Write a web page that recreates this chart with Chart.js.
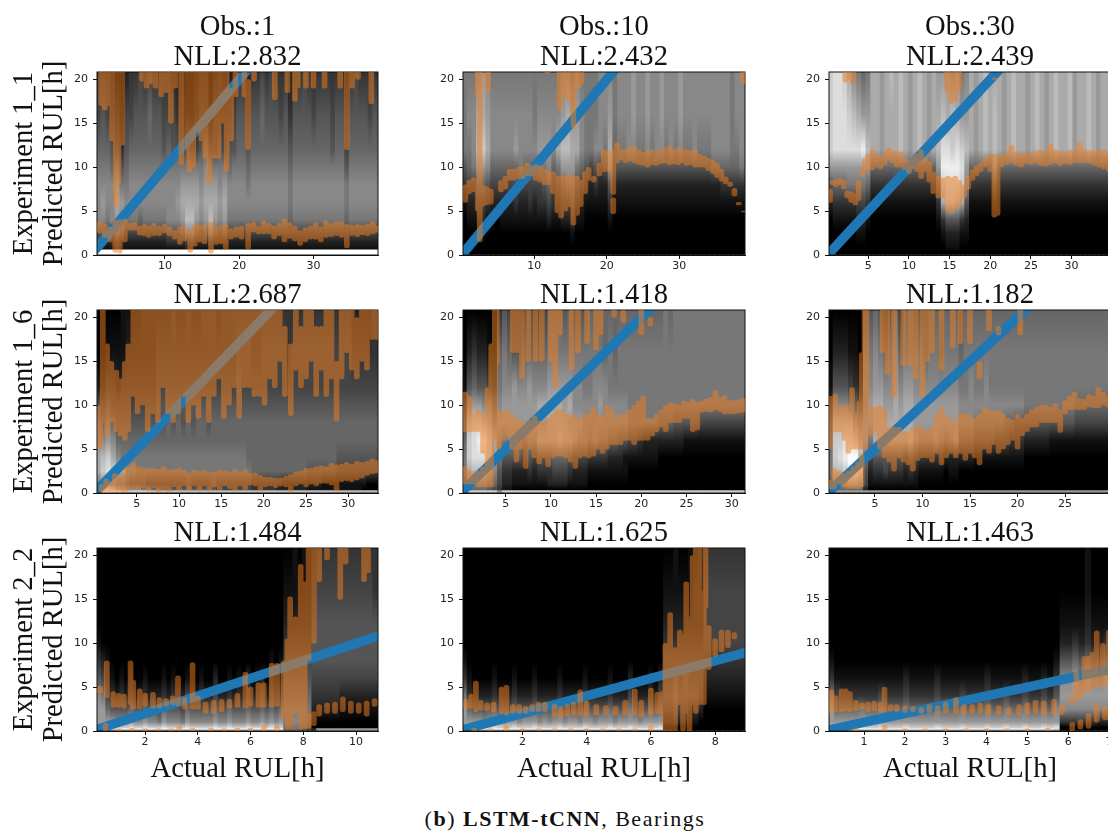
<!DOCTYPE html>
<html>
<head>
<meta charset="utf-8">
<script src="https://cdn.jsdelivr.net/npm/chart.js@4/dist/chart.umd.min.js"></script>
<style>
  html, body { margin: 0; padding: 0; width: 1108px; height: 831px; overflow: hidden; background: #fff; }
  canvas { position: absolute; filter: blur(0.6px); }
  #caption { position: absolute; left: 0; width: 1130px; top: 806px; text-align: center; font: 22px "Liberation Serif"; letter-spacing: 1.5px; color: #111; }
</style>
</head>
<body>
<div id="caption">(<b>b</b>) <b>LSTM-tCNN</b>, Bearings</div>
<script>
// y axis is the same everywhere
const yMax = 20.85;
const yTicks = [0, 5, 10, 15, 20];

// ideal line, predicted = actual
const idealX = [0, 40];
const idealY = [0, 40];

// x ranges and ticks
const range11 = [0.84, 38.7], ticks11 = [10, 20, 30];
const range12 = [0.17, 39.06], ticks12 = [10, 20, 30];
const range13 = [0.17, 34.85], ticks13 = [5, 10, 15, 20, 25, 30];
const range21 = [0.31, 33.5], ticks21 = [5, 10, 15, 20, 25, 30];
const range22 = [0.28, 31.47], ticks22 = [5, 10, 15, 20, 25, 30];
const range23 = [0.16, 29.84], ticks23 = [5, 10, 15, 20, 25];
const range31 = [0.18, 10.83], ticks31 = [2, 4, 6, 8, 10];
const range32 = [0.15, 8.93], ticks32 = [2, 4, 6, 8];
const range33 = [0.14, 7.05], ticks33 = [1, 2, 3, 4, 5, 6, 7];

const title11 = ["Obs.:1", "NLL:2.832"];
const title12 = ["Obs.:10", "NLL:2.432"];
const title13 = ["Obs.:30", "NLL:2.439"];
const title21 = "NLL:2.687", title22 = "NLL:1.418", title23 = "NLL:1.182";
const title31 = "NLL:1.484", title32 = "NLL:1.625", title33 = "NLL:1.463";
const rowLabels = ["Experiment 1_1", "Experiment 1_6", "Experiment 2_2"];
const yLabel = "Predicted RUL[h]";
const xLabel = "Actual RUL[h]";

// heat map: predicted RUL levels where grey is read, each column string has one hex digit per level
const levelsThick = [0, 0.55, 0.7, 1.5, 2.5, 4, 6, 8, 10, 12, 16, 20.85];
const levelsThin = [0, 0.25, 0.4, 1, 2.5, 4, 6, 8, 10, 12, 16, 20.85];

const heat11 = ["ff1358887643","ff1358987653","ff1247887643","ff1358886532","ff2479a97420","ff1368975310","ff1247876542","ff1247887643",
  "ff1247887653","ff1246887654","ff1247887653","ff1247887664","ff1247887653","ff1247887653","ff1247887543","ff1358887643",
  "ff1358887542","ff1358987532","ff1369a97432","ff248ba97510","ff248ba97410","ff1369a97421","ff1358987532","ff1369a98632",
  "ff248ba97410","ff1369a97431","ff1358987532","ff1369a97431","ff1247886532","ff1247887542","ff1247887653","ff1247887653",
  "ff1247876532","ff1247887653","ff1247887653","ff1247887664","ff1247887653","ff1247887654","ff1247887653","ff1247887643",
  "ff1247887653","ff1246776532","ff1247887653","ff1247887653","ff1247887654","ff1247887653","ff1247887643","ff1247887653",
  "ff1247887653","ff1247887653","ff1247887543","ff1247887653","ff1247887653","ff1246775431","ff1247887653","ff1247887654",
  "ff1247887653","ff1247887653","ff1247887643","ff1247887653"];

const heat12 = ["000000135777","000001246787","000001247887","000002469ba8","000012469ca9","000001358a98","000001246887","000000246887",
  "000001246887","000001246887","000001246887","000001346987","000001247887","000001246887","000001346887","000001246877",
  "000001347987","000001357987","000002468987","000001346887","000001357a87","000002469b98","000002479ba8","000013579a97",
  "000001357a98","000001246887","000000135777","000000124777","000000135877","000000124888","000000125788","000001359a98",
  "000000125677","000000125788","000000125788","000000125888","000000125899","000000125788","000000125788","000000125899",
  "000000125788","000000125888","000000125899","000000125788","000000125888","000000125788","000000125899","000000125788",
  "000000125788","000000125888","000000125788","000000125788","000000125788","000000126888","000000126888","000000136888",
  "000000136888","000000136777","000000136788","000000137888"];

const heat13 = ["000000259ccc","000001369ddd","000001369ddd","000001369ddc","000001379dca","000001379db8","000012479da7","000012479e96",
  "000001369b97","000000136aaa","000000136aaa","000000136999","000000136aaa","000000136aab","000000136aaa","000000136bbb",
  "000000136aaa","000000136999","000000136aaa","000000136bbb","000000136aaa","000000136999","000000136aaa","000001369ba9",
  "000013acedb9","000125cdeda9","000125cdecb8","000125bdeda9","000013acdc97","000012589b98","000000136aaa","000000136999",
  "000000136aaa","000000136bbb","000000136aaa","000000259bba","000000136aaa","000000136999","000000136aaa","000000136bbb",
  "000000136aaa","000000136aaa","000000136999","000000136aaa","000000136bbb","000000136aaa","000000136999","000000136aaa",
  "000000136bbb","000000136aaa","000000136aaa","000000136bbb","000000136999","000000136aaa","000000136aaa","000000136bbb",
  "000000136aaa","000000136999","000000136aaa","000000136aaa"];

const heat21 = ["ddb7aa875200","eec8cb864200","eed9dc975310","eec8ca864310","dda7a8654210","cc97a7654311","cc8687654321","cc8587654321",
  "cc8577654321","cc7577654322","cc7477654322","bb6477654322","bb6477655432","bb6477655432","bb5477665432","bb5477655433",
  "bb5477665432","bb5477655432","bb6577665433","bb5477655432","bb5477665432","bb5477665433","bb5477655433","bb5577665433",
  "bb4477665432","bb4477665433","bb4477665433","bb4477665433","bb4477665543","bb4477665443","bb4476665443","bb3366665433",
  "bb3366665433","bb3366665443","bb3366665443","bb3366665443","bb2366665443","bb2266665443","bb2266665433","bb2266665443",
  "bb2266665443","bb2266665443","bb1256665443","bb1256665443","bb1256665443","bb1156665443","bb1156665443","bb1156665443",
  "bb1145665443","bb1145665443","bb1145665443","bb1145665432","bb1145665432","bb0145665432","bb0045665432","bb0045665433"];

const heat22 = ["cc4577653100","cc58accb8520","cc68bddc9630","cc68bdec9520","cc68bdeb8520","cc57acca8410","cc4689a86310","883457898763",
  "cc1235799875","cc1235899864","cc0125899954","cc0125899854","cc0124799864","cc0135899965","cc0124899864","cc0135a9a864",
  "cc0135a9a864","cc0235aaa976","cc0246aaa976","cc0246baa976","cc0246aa9975","cc0135a9a976","cc0124998875","cc0124898875",
  "cc0124888775","cc0013788776","cc0013888876","cc0013789876","cc0013788866","cc0012688776","cc0012688766","cc0012588776",
  "cc0011588776","cc0001477776","cc0001477776","cc0001377776","cc0001277776","cc0001277776","cc0001277776","cc0000267776",
  "cc0000267777","cc0000267776","cc0000257777","cc0000257777","cc0000157777","cc0000157777","cc0000157777","cc0000147777",
  "cc0000147777","cc0000147777","cc0000147777","cc0000147777","cc0000147777","cc0000147777","cc0000147777","cc0000147777"];

const heat23 = ["994577653100","9958bccb8520","9968bdcb8520","9969cedb8520","996aefdb7410","996aefc96310","9969dca85200","992457998875",
  "990124799875","990135aaa986","990135aaa975","990145aa9864","990135aa9875","990135aaa986","990135aa9864","990124aaa976",
  "990135baa976","990124999875","990013899875","990013899865","990013899876","990013999876","990013899866","990002799876",
  "990012899876","990012999876","990002688765","990002688776","990002688876","990001578776","990001578776","990001578876",
  "990001578776","990001478776","990001478776","990001468776","990001368776","990001358776","990001358776","990000257776",
  "990000257776","990000257776","990000257776","990000257776","990000157776","990000157776","990000157776","990000157776",
  "990000157776","990000146776","990000146776","990000146776","990000146776","990000146776","990000146776","990000146776"];

const heat31 = ["6aa998531000","6bb997420000","7cc964210000","8dc953100000","8ec852000000","8ec853100000","8ec852000000","8ed963100000",
  "8ec852000000","8ec842000000","8ed963100000","8ec852000000","8ec852000000","8ec742000000","8ed963100000","8ec852000000",
  "8ec853100000","8ec852000000","8ec742000000","8ed964100000","8ec852000000","8ec852000000","8ec853100000","8ec852000000",
  "8ec852000000","8ed964200000","8ec852000000","8ec852000000","8ed963100000","8ec852000000","8ec853100000","8ec852000000",
  "8ed964200000","8ec852000000","8ec853100000","8ed964200000","8ec852000000","8ed964210000","8ec853100000","8ec964210000",
  "566776543210","566776543210","577876543211","566776543210","466776543211","345676543211","220023455432","990023455543",
  "990023455543","990023455543","990023455543","990023455543","990012455543","990012455543","990012455543","990012455543",
  "990012455543","990012455543","990012455543","990012455533"];

const heat32 = ["7bb997310000","7cc963100000","8dc952000000","8ec952000000","8ec852000000","8ec952000000","8ed963100000","8ec952000000",
  "8ec852000000","8ec952000000","8ed963100000","8ec852000000","8ec952000000","8ec952000000","8ed963100000","8ec852000000",
  "8ec952000000","8ec852000000","8ec952000000","8ed963100000","8ec852000000","8ec952000000","8ec952000000","8ec852000000",
  "8ed963100000","8ec952000000","8ec852000000","8ec952000000","8ec952000000","8ed963100000","8ec852000000","8ec952000000",
  "8ec952000000","8ed974200000","8ec952000000","8ec852000000","8ec952000000","8ed963100000","8ec952000000","8ed964200000",
  "000245443210","000245443210","000356543211","000245443210","000245543210","000135443211","000135443221","000024443222",
  "000001234443","000001234443","000001234443","000001234443","000001234443","000001234443","000001234443","000001234443"];

const heat33 = ["7bb997310000","8cc964100000","8dc963100000","8ec963100000","8ec963100000","8ed973100000","8ec963100000","8ec963100000",
  "8ed974100000","8ec963100000","8ec963100000","8ec963100000","8ed974200000","8ec963100000","8ec963100000","8ec963100000",
  "8ec963100000","8ed974200000","8ec963100000","8ec963100000","8ec963100000","8ed974100000","8ec963100000","8ec963100000",
  "8ec963100000","8ed974200000","8ec963100000","8ec963100000","8ed974100000","8ec963100000","8ec963100000","8ed974200000",
  "8ec963100000","8ec963100000","8ed974200000","8ec963100000","8dd985310000","000389852100","000389852100","000389963100",
  "000389852100","000389963211","000389852100","000289852100","000289963100"];

// orange predictions as [actual, low, high] ranges
const orange11 = [[1.4,17,21],[1.9,16.5,21],[2.4,17,21],[2.9,13,21],[3.4,5.5,21],[3.7,8,21],[4.2,12.5,21],[6.9,19.8,21],[7.5,19,21],[8.1,19.5,21],[8.7,19,21],[9.5,18,21],[10.2,18.5,21],[10.8,15,21],[11.4,19,21],[12.2,10.3,21],[13,12,21],[13.3,9.5,21],[13.8,10,21],[14.3,14,21],[14.9,13,21],[15.4,11,21],[16,8.2,21],[16.6,11,21],[17.2,11,21],[17.8,15,21],[18.3,9.5,21],[18.9,13,19],[19.5,18,21],[20.7,18,21],[21.2,12,20],[22,19.8,21],[24.8,17.7,21],[26.5,18.5,21],[27.5,17.5,21],[27.9,19,21],[29,19,21],[30,19,21],[31.5,19,21],[33.6,19,21],[34.5,12,21],[35.2,19,21],[36,20,21],[37.8,17.2,21],
  [1.2,2.5,3.8],[1.9,2,3.5],[2.6,1.5,3.2],[3.3,0.3,4],[3.9,0.2,4],[4.6,1.5,4.1],[5.3,2.8,3.6],[5.9,2.8,3.7],[6.6,2.3,3.3],[7.2,2.2,3.5],[7.8,2,3.3],[8.5,2.2,3.6],[9.2,2.2,3.3],[9.9,2.5,3.5],[10.6,2.2,3.2],[11.3,1.8,2.8],[12,1.2,3.2],[12.6,1.6,3.3],[13.4,0.3,2.8],[14,1,3.5],[14.6,1.5,3.4],[15.3,1.3,3.5],[16.2,0.2,3.7],[16.9,1.2,3.2],[17.6,1.3,3.4],[18.2,0.6,3.5],[18.9,1.8,3],[19.6,2,3.2],[20.3,1.8,3.3],[21.2,0.7,3.6],[21.9,2.6,3.7],[22.6,2.4,3.3],[23.3,2.4,3.9],[24,2.4,3.6],[24.7,1.8,3.3],[25.4,2.2,3.6],[26.1,1.5,4.1],[26.8,1.9,3.7],[27.5,1.6,3.3],[28.2,1.1,2.8],[28.9,1.5,3.1],[29.6,1.8,3.3],[30.3,1.8,3.7],[31,1.5,3.2],[31.7,2,3.9],[32.4,2.1,3.6],[33.1,2.2,3.8],[33.8,2,3.8],[34.5,0.8,3.5],[35.2,2.2,3.4],[35.9,2.1,3.5],[36.6,2.3,3.4],[37.3,2.2,3.5],[38,2.4,3.8],[38.5,2.6,3.3]];

const orange12 = [[2.2,18,21],[2.5,1.5,21],[3.6,18.5,21],[11.8,20.7,21],[13.5,16.5,21],[14,18,21],[14.7,17.5,21],[15.4,14.5,21],[16.1,19,21],[16.5,19.5,21],[38.8,19.5,21],
  [0.5,6,8],[1,7,8.5],[1.6,7.2,8.8],[2.2,5,8.5],[2.8,5.5,8],[3.4,5.7,7.8],[4,5.8,7.5],[5.4,7.2,8.5],[6,7.5,9],[6.6,8.5,9.8],[7.2,8.5,9.8],[7.8,8.7,10],[8.4,8.7,10.1],[9,9,10.5],[9.6,9,10.2],[10.2,8.5,10.3],[10.8,8.3,10.2],[11.4,8,9.8],[12,8,9.5],[12.6,7,9.5],[13.2,4.8,9],[13.7,4.2,9],[14.3,5,9],[14.9,5.5,9.2],[15.4,3.4,9],[15.9,4.5,9],[16.4,5.5,8.5],[17,7,9.5],[17.5,8.5,10],[18.2,8.3,9],[19,9,10.5],[19.6,9.5,12],[20.2,9.5,11.8],[20.9,6.9,12],[20.9,4.7,6.5],[21.4,10.5,12.8],[22,10.8,12],[22.6,10.5,12],[23.2,10.7,12.2],[23.8,10.5,12.4],[24.4,10.3,12],[25,10.2,11.7],[25.6,10,11.9],[26.2,10.3,12],[26.8,10.2,11.6],[27.4,10.4,12],[28,10.5,12.2],[28.6,10.3,12.4],[29.2,10.4,12],[29.8,10.3,12.3],[30.4,10.5,12],[31,10.2,12],[31.6,10.3,11.9],[32.2,10,12],[32.8,10,11.5],[33.4,10,11.3],[34,9.6,11],[34.6,9.3,10.8],[35.2,8.8,10.5],[35.8,8.4,9.8],[36.4,8.1,8.9],[37,7.8,8.3],[37.6,6.7,7.6],[38.2,5.7,6],[38.9,4.9,5]];

const orange13 = [[2.2,19.7,21],[2.6,20,21],[3.1,19.5,21],[14.7,18.5,21],[15.2,17.3,21],[15.7,17.5,21],[16.2,18.8,21],[20.5,20,20.2],
  [0.3,6,7.5],[0.6,8,8.5],[1,7.8,8.6],[1.5,8,8.7],[2,7.5,8.5],[2.4,6.5,7.3],[2.9,6,7.2],[3.4,5.7,7],[3.8,6.2,8.5],[4.3,9,10],[4.6,9.5,11],[5,9.8,11.5],[5.5,9.7,12],[6,10,11.5],[6.5,9.8,11.2],[7,10.2,11.6],[7.5,10.8,12.2],[8,10.5,11.8],[8.5,10,11.8],[9,10,11.7],[9.5,9.7,11],[10,9.3,10.8],[10.5,9.8,11.2],[11,9.5,11.5],[11.5,8.7,12],[12,9.5,11],[12.5,8.3,10.7],[13,7,9.5],[13.6,6.5,9],[14.2,6.5,8.8],[14.8,5,9],[15.2,4.8,8.8],[15.7,5.2,9],[16.2,5.5,8.5],[16.8,6.5,8],[17.3,7.5,9],[17.8,8.5,9.7],[18.3,9,10.2],[18.8,9.5,10.5],[19.3,10,11],[20,9.5,11.5],[20.5,4.3,11.5],[20.9,4.5,11],[21.4,10,11.5],[22,10.3,11.6],[22.6,10.5,12.5],[23.2,10.2,11.7],[23.8,10,11.5],[24.4,10.4,11.6],[25,10.3,11.5],[25.6,10.5,11.9],[26.2,10.2,12],[26.8,10.1,11.8],[27.4,10.3,12.7],[28,10.5,12],[28.6,10.2,11.8],[29.2,10.4,11.6],[29.8,10.3,12],[30.4,10.5,12],[31,10.5,12.8],[31.6,10.5,12.1],[32.2,10.5,11.9],[32.8,10.2,11.9],[33.4,10,12],[34,9.8,12],[34.6,9.5,11.5]];

const orange21 = [[0.7,5,10],[1,8,21],[1.5,6.5,17],[2,8,15],[2.6,7,14],[3.1,6.5,13],[3.6,6,15],[4,7,17],[4.6,11,21],[5.1,9,21],[5.7,10,21],[6.3,7,21],[6.9,9,21],[7.5,8,21],[8.1,12,21],[8.7,9,21],[9.3,8,21],[9.9,9,21],[10.5,11,21],[11.1,8,21],[11.7,10,21],[12.3,8.5,21],[12.9,11,21],[13.5,8,21],[14.1,11,21],[14.7,13,21],[15.3,8.5,21],[15.9,10,21],[16.5,12,21],[17.1,8.5,21],[17.7,12,21],[18.3,12,21],[18.9,11,21],[19.5,11,21],[20.1,10,21],[20.7,13,21],[21.3,12,21],[21.9,15,21],[22.5,11,19],[23.2,8.8,17],[23.8,14,21],[24.4,12,19],[25,13,21],[25.6,15,21],[26.2,11,19],[26.8,14,19],[27.4,11,21],[28,13,21],[28.6,8.2,15],[29.2,13,21],[29.8,16,21],[30.4,14,21],[31,13,20],[31.6,15,21],[32.2,14,21],[32.8,17.5,21],[33.3,17.5,21],
  [0.9,0.1,1],[1.4,0.1,1.6],[1.9,0.1,1.3],[2.4,0.1,2.2],[2.9,0.2,1.8],[3.4,0.1,2.3],[3.9,0.2,3],[4.6,0.5,3.4],[5.2,0.4,3],[5.8,0.6,2.9],[6.4,0.2,2.8],[7,0.6,2.8],[7.6,0.1,2.7],[8.2,0.5,3],[8.8,0.1,2.6],[9.4,0.7,2.7],[10,0.3,2.8],[10.6,0.8,2.6],[11.2,0.3,2.3],[11.8,0.8,2.6],[12.4,0.2,2.5],[13,0.8,2.6],[13.6,0.2,2.4],[14.2,0.7,2.4],[14.8,0.3,2.6],[15.4,0.8,2.5],[16,0.5,2.4],[16.6,0.2,2.7],[17.2,0.8,2.4],[17.8,0.3,2.7],[18.4,0.9,2.3],[19,0.8,2.3],[19.6,0.3,2],[20.2,0.7,1.8],[20.8,0.8,1.8],[21.4,0.6,1.7],[22,0.8,1.7],[22.6,0.7,1.9],[23.2,0.1,2.1],[23.8,0.8,2.4],[24.4,1,2.5],[25,0.7,2.8],[25.6,1,2.8],[26.2,0.8,3],[26.8,1.1,3.1],[27.4,1.1,3],[28,0.9,3.4],[28.6,0.2,3.2],[29.2,1.3,3.3],[29.8,1.4,3.5],[30.4,1.3,3.3],[31,1.5,3.6],[31.6,1.7,3.5],[32.2,2,3.6],[32.8,2.2,3.9],[33.3,2.3,3.7]];

const orange22 = [[0.5,7,11.5],[1,7,11],[1.5,7,9],[2,7,9.5],[2.5,4.5,9],[3,5,12],[3.4,0.7,17],[3.8,6,21],[4,14.5,21],
  [0.5,1,3],[1,1,2.5],[1.5,1,2.5],[2,0.7,2.5],[2.5,0.7,3],[3,0.7,5],
  [5.8,16,21],[6.3,16,21],[6.8,13,21],[7.5,15,21],[8.3,15,21],[9,15,21],[10,15,21],[10.5,12,21],[11,18,21],[12.3,14,21],[13,16,21],[14,17,21],[15,16.3,21],[15.5,18,21],[17,20,21],[18,19.4,20.8],[20,18,21],[21,19,20],
  [4.2,5,9.5],[4.7,6,9.2],[5.2,6.5,9.5],[5.7,5,9],[6.2,3.5,8.5],[6.7,5,8.2],[7.2,2.8,8],[7.7,5,8.3],[8.2,4,8.8],[8.7,3.3,8.2],[9.2,4,8],[9.7,3,8.5],[10.2,4,9],[10.7,4.2,9.5],[11.2,4.2,9.5],[11.7,4,9],[12.2,3.5,9],[12.7,2.8,8.6],[13.2,4,8.5],[13.7,4.2,9],[14.2,4,9],[14.7,4.2,9.8],[15.2,5,9],[15.7,4.5,8.8],[16.2,5,10],[16.7,5.5,9.5],[17.2,5.5,8.5],[17.7,5.5,9],[18.2,6,9],[18.7,6,9.5],[19.2,5.5,10],[19.7,6,10.5],[20.2,6,11],[20.7,6,8.5],[21.2,6.5,8.5],[21.7,7,9],[22.2,7.5,9.5],[22.7,7,10],[23.2,8,10.3],[23.7,8,10.2],[24.2,8,10],[24.7,8.5,10.5],[25.2,8.5,10.4],[25.7,7,10.7],[26.2,7.2,10.3],[26.7,9.2,10.5],[27.2,9.3,10.7],[27.7,9.2,10.9],[28.2,9.5,11.7],[28.7,9.3,10.9],[29.2,9,11.1],[29.7,9,10.5],[30.2,9,10.6],[30.7,9.1,10.6],[31.2,9.2,10.8]];

const orange23 = [[0.3,5,11],[0.8,7,11.3],[1.3,7,10],[1.8,6,10],[2.2,4.5,10],[2.6,5,12],[3,5,9],[3.4,5,10.5],[3.6,5,16],[3.9,5,21],[4.1,9,21],
  [0.3,0.5,1.5],[0.7,0.5,2.8],[1.2,1,2.5],[1.7,0.7,2.2],[2.2,0.5,2.5],[2.7,0.5,3],[3.2,0.5,3.5],[3.6,0.7,4.5],
  [5.8,16,21],[6.3,13.5,21],[7,11,21],[8,14.5,21],[8.7,14.5,21],[9.3,13,21],[10,11,21],[10.5,15,21],[11,16,21],[12,14,21],[13.2,16.5,21],[14,17,21],[15,17,21],[16,13,15],[17,18.5,21],[18,18,19],[20.3,18,21],
  [4.6,6.5,9.8],[5,7,9.8],[5.5,5,10],[6,4,9.5],[6.5,3.5,7.5],[7,2.5,7.5],[7.5,4,7.5],[8,3.5,7],[8.5,3.2,7],[9,2.5,7.5],[9.5,3.7,7.5],[10,4,7.5],[10.5,4,7],[11,3.5,7.5],[11.5,4.5,9],[12,3.2,9.7],[12.5,4,8.8],[13,4.5,8.5],[13.5,4,8],[14,4.5,9],[14.5,3.7,9],[15,4.5,9],[15.5,4,8.5],[16,3.2,9],[16.5,5,9.8],[17,4.5,9.5],[17.5,5.5,9.3],[18,4.5,9.4],[18.5,5,9],[19,5.5,8.5],[19.5,6,8.3],[20,5,9],[20.5,6.5,8.5],[21,7,9],[21.5,7.5,9.5],[22,7.5,9.8],[22.5,8,10],[23,8,10],[23.5,8,9.8],[24,8,10.2],[24.5,6.9,9.5],[25,9,10.5],[25.5,9.5,11],[26,9.5,11.5],[26.5,9.5,10.8],[27,9.5,10.7],[27.5,9.8,11.2],[28,9.7,11],[28.5,9.7,12],[29,10,11.5],[29.5,9.8,11]];

const orange31 = [[0.3,4.3,5.1],[0.55,3.8,8],[0.8,2.7,4.5],[1,2.7,4.3],[1.2,2.6,4.2],[1.45,3,8],[1.55,2.5,5.8],[1.8,2.5,4.8],[2,2.8,4.3],[2.3,2.6,4.4],[2.55,2.6,3.8],[2.8,2.8,3.7],[3.05,3,4],[3.25,2.9,6.3],[3.5,2.5,3.8],[3.8,2.5,7.8],[4,2.5,4],[4.3,2,3.3],[4.6,2,3.5],[4.9,2.2,3.6],[5.2,2.6,3.6],[5.5,2.7,4.3],[5.8,2.6,6.7],[6,2.8,5],[6.3,2.7,5.5],[6.5,2.7,5.5],[6.8,2.7,7.7],[7,2.8,7.7],[7.25,1.5,8],[7.4,0.2,10.5],[7.5,0.2,15.3],[7.7,2,13],[7.9,0.2,19],[8.05,0.3,17],[8.2,8,21],[8.4,10,21],[8.6,17,21],[8.9,19.5,21],[9.4,15,21],[9.6,19,21],[10.3,17,21],[10.45,18,21],
  [8.2,0.3,2],[8.4,0.6,2.2],[8.6,1.7,3],[8.9,2,3.2],[9.2,2,3.3],[9.5,2.2,3.9],[9.8,2,3.4],[10.1,2,3.2],[10.4,1.7,3.4],[10.7,2.8,3.7],
  [0.5,0,0.9],[1,0,0.25],[1.5,0,0.3],[2,0,0.25],[2.5,0,0.25],[3,0,0.25],[3.3,0,0.6],[3.8,0,0.3],[4.5,0,0.3],[5,0,0.25],[5.5,0,0.3],[6,0,0.3],[6.5,0,0.7],[7,0,0.6]];

const orange32 = [[0.25,2.5,3.6],[0.4,2.6,4.2],[0.55,2.2,5.7],[0.7,2.4,3.5],[0.9,2.3,3.2],[1.1,2.2,3.3],[1.35,2,5],[1.5,1.8,5.2],[1.7,2,3],[1.9,2,3],[2.1,2,2.8],[2.3,2.2,3],[2.5,2.2,3.3],[2.7,2.2,3.3],[3,1.7,3.1],[3.2,1.5,2.8],[3.4,1.7,3],[3.6,1.8,3.3],[3.8,1.7,4.7],[4,1.7,3.4],[4.3,1.8,3],[4.6,1.8,2.9],[4.9,1.8,2.8],[5.2,1.8,3.5],[5.5,1.8,4.8],[5.7,1.6,3.5],[6,1.8,4.9],[6.2,2,4.4],[6.35,2,4.5],[6.45,0,10],[6.6,0,13.5],[6.75,0,9.5],[6.9,3,11.5],[7,0,11],[7.1,2,17],[7.2,0,13],[7.3,3,20],[7.4,2,21],[7.5,3,21],[7.65,3,16],[7.7,14,21],[7.8,7,12],[8,8.5,10.5],[8.2,9,11.5],[8.4,9.5,11.5],[8.6,10.5,11.2],
  [0.5,0,0.3],[1,0,0.25],[1.5,0,0.6],[2,0,0.25],[2.5,0,0.25],[3,0,0.25],[3.5,0,0.25],[4,0,0.25],[4.5,0,0.25],[5,0,0.25],[5.5,0,0.25],[6,0,0.7]];

const orange33 = [[0.2,2,4.7],[0.3,2.2,4],[0.45,2.2,4.8],[0.55,2.3,4.8],[0.65,2.2,4.5],[0.8,2.3,3.5],[0.95,2.5,3.2],[1.1,2.2,3.3],[1.25,2.3,3.4],[1.4,2.2,3.3],[1.5,2.2,5],[1.65,2.3,3],[1.8,2.2,3],[2,2.1,2.8],[2.2,2.2,2.8],[2.4,2,2.7],[2.6,2.1,3],[2.8,2,2.9],[3,2,3.3],[3.25,2,3.8],[3.45,1.9,3],[3.65,2,3],[3.85,2,3.2],[4.05,1.9,3],[4.3,1.9,2.9],[4.55,1.8,2.7],[4.8,1.8,3],[5,1.9,3.2],[5.2,2,3.5],[5.4,1.8,3.4],[5.65,1.8,3.6],[5.85,1.9,3],[6.1,3,4],[6.2,3.8,6.8],[6.3,3.5,5.8],[6.4,4.5,8.5],[6.5,4.5,8.5],[6.6,5,9],[6.7,5,11.4],[6.85,5,10],[7,5,11.5],
  [6.1,0,1],[6.3,0.2,1.3],[6.5,0.3,2],[6.7,1,3],[6.9,1.3,2.8],[7,1.2,2.5],
  [0.8,0,0.25],[1.5,0,0.7],[2,0,0.25],[2.5,0,0.25],[3,0,0.25],[3.5,0,0.25],[4,0,0.25],[4.5,0,0.25],[5,0,0.25],[5.5,0,0.3]];

// page layout
const colLeft = [97, 463, 829], colWidth = [281, 282, 282], axisWidth = [97, 40, 40];
const rowTop = [72, 310, 548], plotHeight = 183;
const serif = "Liberation Serif";
const bigFont = { family: serif, size: 28.6, lineHeight: 1.049, weight: "normal" };
const tickFont = { family: "DejaVu Sans", size: 11 };

const panels = [
  [0, 0, range11, ticks11, title11, heat11, levelsThick, orange11],
  [0, 1, range12, ticks12, title12, heat12, levelsThin, orange12],
  [0, 2, range13, ticks13, title13, heat13, levelsThin, orange13],
  [1, 0, range21, ticks21, title21, heat21, levelsThin, orange21],
  [1, 1, range22, ticks22, title22, heat22, levelsThin, orange22],
  [1, 2, range23, ticks23, title23, heat23, levelsThin, orange23],
  [2, 0, range31, ticks31, title31, heat31, levelsThin, orange31],
  [2, 1, range32, ticks32, title32, heat32, levelsThin, orange32],
  [2, 2, range33, ticks33, title33, heat33, levelsThin, orange33],
];

const frame = {
  id: "frame",
  afterDraw(chart) {
    const a = chart.chartArea, ctx = chart.ctx;
    ctx.save();
    ctx.strokeStyle = "#111";
    ctx.lineWidth = 1;
    ctx.strokeRect(a.left, a.top, a.width, a.height);
    ctx.restore();
  },
};

function addCanvas(left, top, width, height) {
  const c = document.createElement("canvas");
  c.width = width;
  c.height = height;
  c.style.left = left + "px";
  c.style.top = top + "px";
  c.style.width = width + "px";
  c.style.height = height + "px";
  document.body.appendChild(c);
  return c;
}

function columnFill(chart, levels, column) {
  const y = chart.scales.y;
  const y0 = y.getPixelForValue(0), y1 = y.getPixelForValue(yMax);
  // the scale has no pixels yet on the first pass, before layout
  if (!isFinite(y0) || !isFinite(y1)) return "#000";
  const g = chart.ctx.createLinearGradient(0, y0, 0, y1);
  levels.forEach((lv, i) => {
    const v = parseInt(column[i], 16) * 17;
    g.addColorStop(lv / yMax, `rgb(${v},${v},${v})`);
  });
  return g;
}

panels.forEach(([row, col, range, ticks, title, heat, levels, orange]) => {
  const lines = Array.isArray(title) ? title.length : 1;
  const titleHeight = lines * 30;
  const bottom = row === 2 ? 53 : 22;
  const canvas = addCanvas(
    colLeft[col] - axisWidth[col],
    rowTop[row] - titleHeight,
    axisWidth[col] + colWidth[col] + 8,
    titleHeight + plotHeight + bottom
  );
  // heat columns share the width of the x range evenly
  const step = (range[1] - range[0]) / heat.length;

  new Chart(canvas, {
    type: "bar",
    data: {
      datasets: [
        {
          type: "line",
          data: idealX.map((x, i) => ({ x, y: idealY[i] })),
          borderColor: "#1f77b4",
          borderWidth: 9.5,
          pointRadius: 0,
          clip: 0,
          order: 0,
        },
        {
          type: "bar",
          data: heat.map((c, i) => ({ x: range[0] + (i + 0.5) * step, y: [0, yMax] })),
          barThickness: Math.ceil(colWidth[col] / heat.length) + 1,
          borderWidth: 0,
          backgroundColor: (ctx) =>
            ctx.dataIndex === undefined ? "#000" : columnFill(ctx.chart, levels, heat[ctx.dataIndex]),
          order: 1,
        },
      ],
    },
    options: {
      responsive: false,
      animation: false,
      devicePixelRatio: 1,
      layout: { autoPadding: false, padding: { right: 8 } },
      plugins: {
        legend: { display: false },
        tooltip: { enabled: false },
        title: {
          display: true,
          text: title,
          fullSize: false,
          color: "#111",
          font: bigFont,
          padding: 0,
        },
      },
      scales: {
        x: {
          type: "linear",
          min: range[0],
          max: range[1],
          offset: false,
          afterBuildTicks: (s) => { s.ticks = ticks.map((value) => ({ value })); },
          afterFit: (s) => { s.height = bottom; },
          border: { color: "#111" },
          grid: { drawOnChartArea: false, offset: false, tickLength: 4, tickColor: "#111" },
          ticks: { font: tickFont, color: "#222", padding: 1, maxRotation: 0, autoSkip: false, callback: (v) => String(v) },
          title: { display: row === 2, text: xLabel, color: "#111", font: bigFont, padding: 0 },
        },
        y: {
          min: 0,
          max: yMax,
          afterBuildTicks: (s) => { s.ticks = yTicks.map((value) => ({ value })); },
          afterFit: (s) => { s.width = axisWidth[col]; },
          border: { color: "#111" },
          grid: { drawOnChartArea: false, tickLength: 4, tickColor: "#111" },
          ticks: { font: tickFont, color: "#222", padding: 5, autoSkip: false, callback: (v) => String(v) },
          title: { display: col === 0, text: [rowLabels[row], yLabel], color: "#111", font: bigFont, padding: { top: 9.5, bottom: 0 } },
        },
      },
    },
    plugins: [frame],
  });

  // orange goes on its own canvas so overlapping ranges keep one flat transparency
  const top = addCanvas(colLeft[col], rowTop[row], colWidth[col], plotHeight);
  top.style.opacity = 0.52;
  new Chart(top, {
    type: "bar",
    data: {
      datasets: [{
        data: orange.map(([x, lo, hi]) => ({ x, y: [lo, hi] })),
        barThickness: 5,
        backgroundColor: "#ef7f22",
        borderRadius: 2.5,
        borderSkipped: false,
        borderWidth: 0,
      }],
    },
    options: {
      responsive: false,
      animation: false,
      devicePixelRatio: 1,
      layout: { autoPadding: false },
      plugins: { legend: { display: false }, tooltip: { enabled: false } },
      scales: {
        x: { type: "linear", display: false, min: range[0], max: range[1], offset: false },
        y: { display: false, min: 0, max: yMax },
      },
    },
  });
});
</script>
</body>
</html>
